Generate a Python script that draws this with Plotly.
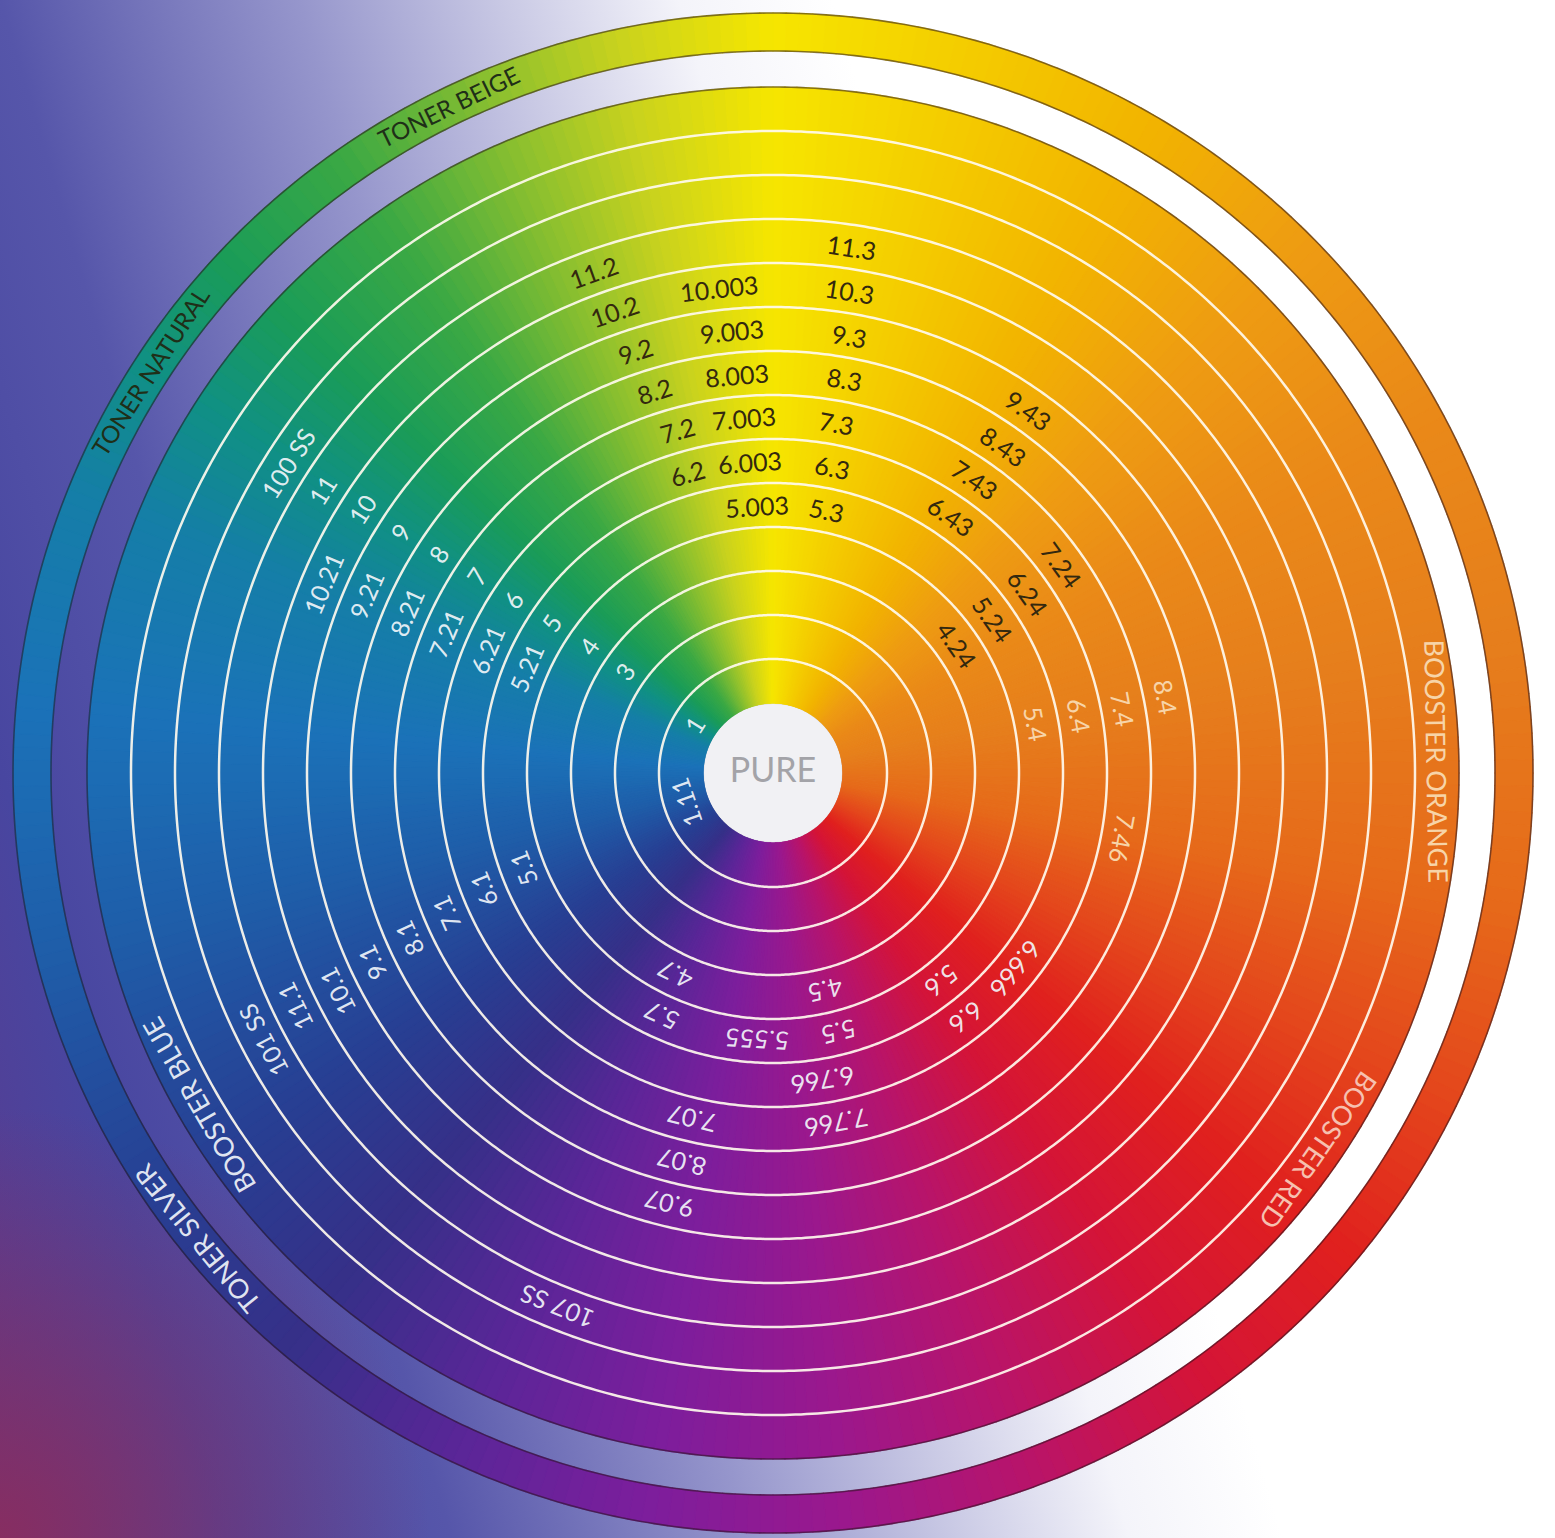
import base64
import numpy as np
import plotly.graph_objects as go

# ---------------- data ----------------
# ring labels: text, ring index (1 = innermost ring around the hub), angle (deg, clockwise from 12 o'clock)
label_text = [
    "11.3", "10.3", "9.3", "8.3", "7.3", "6.3", "5.3",
    "11.2", "10.2", "9.2", "8.2", "7.2", "6.2",
    "10.003", "9.003", "8.003", "7.003", "6.003", "5.003",
    "9.43", "8.43", "7.43", "6.43",
    "7.24", "6.24", "5.24", "4.24",
    "8.4", "7.4", "6.4", "5.4", "7.46",
    "100 SS", "11", "10", "9", "8", "7", "6", "5", "4", "3", "1",
    "10.21", "9.21", "8.21", "7.21", "6.21", "5.21",
    "1.11",
    "101 SS", "11.1", "10.1", "9.1", "8.1", "7.1", "6.1", "5.1",
    "4.7", "5.7", "4.5", "5.5", "5.555", "6.766", "7.766",
    "7.07", "8.07", "9.07", "107 SS", "5.6", "6.6", "6.666",
]
label_ring = [
    11, 10, 9, 8, 7, 6, 5,
    11, 10, 9, 8, 7, 6,
    10, 9, 8, 7, 6, 5,
    9, 8, 7, 6,
    7, 6, 5, 4,
    8, 7, 6, 5, 7,
    12, 11, 10, 9, 8, 7, 6, 5, 4, 3, 1,
    10, 9, 8, 7, 6, 5,
    1,
    12, 11, 10, 9, 8, 7, 6, 5,
    4, 5, 4, 5, 5, 6, 7,
    7, 8, 9, 12, 5, 6, 6,
]
label_angle = [
    8.5, 9.0, 9.9, 10.3, 10.3, 10.9, 11.5,
    -19.7, -18.9, -18.1, -17.3, -15.6, -15.9,
    -6.3, -5.3, -5.1, -4.6, -4.3, -3.5,
    35.1, 35.1, 34.4, 34.7,
    54.2, 54.8, 55.0, 55.2,
    79.1, 79.6, 79.4, 79.4, 100.5,
    -57.4, -57.9, -57.3, -57.1, -56.8, -56.4, -56.2, -55.9, -55.4, -55.4, -58.0,
    -67.1, -66.4, -66.3, -67.0, -66.7, -67.0,
    -109.0,
    -117.7, -116.0, -116.6, -115.3, -114.5, -113.3, -111.9, -110.9,
    -154.0, -155.4, 166.6, 165.7, 183.3, 170.8, 169.7,
    193.2, 193.2, 193.5, 202.0, 141.0, 141.8, 129.0,
]
label_tone = (["dark"] * 27 + ["warm"] * 5 + ["light"] * 40)

# titles on the outermost disk ring (14) and on the outer toner band (15)
title_text = ["TONER NATURAL", "TONER BEIGE", "TONER SILVER",
              "BOOSTER BLUE", "BOOSTER ORANGE", "BOOSTER RED"]
title_ring = [15, 15, 15, 14, 14, 14]
title_angle = [-57.2, -26.0, -129.0, -120.0, 89.0, 124.7]
title_tone = ["band_dark", "band_dark", "light", "light", "warm", "warm_red"]

hub_text = "PURE"

# colour wheel stops: angle clockwise from 12 o'clock -> colour
wheel_angles = [0, 15, 30, 45, 60, 80, 100, 115, 130, 145, 160, 175, 190, 205,
                220, 235, 255, 275, 292, 303, 313, 325, 337, 348, 360]
wheel_colors = ["#f6e600", "#f4cc00", "#f2b400", "#ee9c12", "#ea8a18", "#e67e1c",
                "#e66a1a", "#e4481c", "#e0201e", "#d41438", "#b8146a", "#9a188e",
                "#7c1e9c", "#5a2698", "#363088", "#283e92", "#1f5ca8", "#1b72b8",
                "#157ea8", "#109084", "#1a9c58", "#3aa844", "#86be30", "#c8d21e",
                "#f6e600"]

# ---------------- geometry / style ----------------
W, H = 1555, 1538
CX, CY = 773, 773          # wheel centre, px from left / top
R_VIEW = 765
HUB_R = 70
RING_W = 44
N_RINGS = 14
DISK_R = HUB_R + RING_W * N_RINGS
BAND_IN, BAND_OUT = 722, 760
LABEL_SIZE = 25
TITLE_SIZES = {"TONER NATURAL": 24, "TONER BEIGE": 24, "TONER SILVER": 27,
               "BOOSTER BLUE": 27, "BOOSTER ORANGE": 27, "BOOSTER RED": 27}

tone_color = {
    "dark": "#33280f",
    "light": "rgba(242,246,250,0.93)",
    "warm": "#f7d4a8",
    "warm_red": "#f6c0b0",
    "band_dark": "#1f2f18",
}


def hex_rgb(h):
    h = h.lstrip("#")
    return tuple(int(h[i:i + 2], 16) for i in (0, 2, 4))


def wheel_color(a):
    a = a % 360
    for i in range(len(wheel_angles) - 1):
        a0, a1 = wheel_angles[i], wheel_angles[i + 1]
        if a0 <= a <= a1:
            f = (a - a0) / (a1 - a0)
            c0, c1 = hex_rgb(wheel_colors[i]), hex_rgb(wheel_colors[i + 1])
            c = [round(c0[k] + (c1[k] - c0[k]) * f) for k in range(3)]
            return "rgb(%d,%d,%d)" % tuple(c)
    return wheel_colors[0]


def ring_radius(k):
    if k == 15:
        return (BAND_IN + BAND_OUT) / 2
    return HUB_R + RING_W * (k - 0.5)


fig = go.Figure()

# gradient wedges for the disk and for the outer band
seg = np.arange(0.5, 360, 1.0)
seg_cols = [wheel_color(t) for t in seg]
fig.add_trace(go.Barpolar(theta=seg, r=[DISK_R - HUB_R] * len(seg), base=HUB_R, width=1.0,
                          marker=dict(color=seg_cols, line=dict(color=seg_cols, width=1.2)),
                          hoverinfo="skip", showlegend=False))
fig.add_trace(go.Barpolar(theta=seg, r=[BAND_OUT - BAND_IN] * len(seg), base=BAND_IN, width=1.0,
                          marker=dict(color=seg_cols, line=dict(color=seg_cols, width=1.2)),
                          hoverinfo="skip", showlegend=False))

# white ring separators
circ = np.linspace(0, 360, 721)
rr, tt = [], []
for k in range(1, N_RINGS):
    rr += [HUB_R + RING_W * k] * len(circ) + [None]
    tt += list(circ) + [None]
fig.add_trace(go.Scatterpolar(r=rr, theta=tt, mode="lines",
                              line=dict(color="rgba(255,250,238,0.92)", width=2.5),
                              hoverinfo="skip", showlegend=False))
# dark edges (shadow) of disk and band
rr, tt = [], []
for rad in (DISK_R, BAND_IN, BAND_OUT):
    rr += [rad] * len(circ) + [None]
    tt += list(circ) + [None]
fig.add_trace(go.Scatterpolar(r=rr, theta=tt, mode="lines",
                              line=dict(color="rgba(40,20,30,0.55)", width=1.6),
                              hoverinfo="skip", showlegend=False))

# hub (cartesian overlay, lies under the empty centre of the polar plot)
fig.add_trace(go.Scatter(x=[0], y=[0], mode="markers+text", text=[hub_text],
                         textposition="middle center",
                         textfont=dict(family="Lato", size=34, color="#a3a3a8"),
                         marker=dict(size=2 * HUB_R, color="#f1f1f4",
                                     line=dict(color="#d0d0d5", width=2)),
                         hoverinfo="skip", showlegend=False))

annotations = []


def add_label(txt, ring, ang, color, size):
    rad = ring_radius(ring)
    th = np.radians(ang)
    rot = ((ang + 180) % 360) - 180
    annotations.append(dict(x=rad * np.sin(th), y=rad * np.cos(th), xref="x", yref="y",
                            text=txt, showarrow=False, textangle=rot,
                            xanchor="center", yanchor="middle",
                            font=dict(family="Lato", size=size, color=color)))


for txt, ring, ang, tone in zip(label_text, label_ring, label_angle, label_tone):
    add_label(txt, ring, ang, tone_color[tone], LABEL_SIZE)
for txt, ring, ang, tone in zip(title_text, title_ring, title_angle, title_tone):
    add_label(txt, ring, ang, tone_color[tone], TITLE_SIZES[txt])

# background: diagonal lavender-to-white gradient
svg = f'''<svg xmlns="http://www.w3.org/2000/svg" width="{W}" height="{H}" viewBox="0 0 {W} {H}">
<defs>
<linearGradient id="g" gradientUnits="userSpaceOnUse" x1="-414" y1="121" x2="767" y2="-225">
<stop offset="0" stop-color="#5a3a8e"/>
<stop offset="0.175" stop-color="#4846a0"/>
<stop offset="0.351" stop-color="#5656aa"/>
<stop offset="0.584" stop-color="#9696cc"/>
<stop offset="0.74" stop-color="#c8c8e4"/>
<stop offset="0.88" stop-color="#f4f4fa"/>
<stop offset="1" stop-color="#ffffff"/>
</linearGradient>
<radialGradient id="r" gradientUnits="userSpaceOnUse" cx="0" cy="{H}" r="430">
<stop offset="0" stop-color="#8c2c5c" stop-opacity="0.9"/>
<stop offset="1" stop-color="#8c2c5c" stop-opacity="0"/>
</radialGradient>
</defs>
<rect width="{W}" height="{H}" fill="url(#g)"/>
<rect width="{W}" height="{H}" fill="url(#r)"/>
</svg>'''
bg_src = "data:image/svg+xml;base64," + base64.b64encode(svg.encode()).decode()

fig.update_layout(
    width=W, height=H,
    margin=dict(l=0, r=0, t=0, b=0),
    paper_bgcolor="white", plot_bgcolor="rgba(0,0,0,0)",
    showlegend=False,
    images=[dict(source=bg_src, xref="paper", yref="paper", x=0, y=1,
                 sizex=1, sizey=1, sizing="stretch", layer="below", xanchor="left", yanchor="top")],
    polar=dict(
        domain=dict(x=[(CX - R_VIEW) / W, (CX + R_VIEW) / W],
                    y=[(H - CY - R_VIEW) / H, (H - CY + R_VIEW) / H]),
        bgcolor="rgba(0,0,0,0)",
        barmode="overlay",
        radialaxis=dict(range=[0, R_VIEW], visible=False, showgrid=False),
        angularaxis=dict(visible=False, showgrid=False, rotation=90, direction="clockwise"),
    ),
    xaxis=dict(range=[-CX, W - CX], visible=False, showgrid=False, zeroline=False,
               domain=[0, 1], fixedrange=True),
    yaxis=dict(range=[-(H - CY), CY], visible=False, showgrid=False, zeroline=False,
               domain=[0, 1], fixedrange=True),
    annotations=annotations,
)

fig.write_html("out.html", post_script="document.body.style.margin='0';",
               config={"displayModeBar": False})
